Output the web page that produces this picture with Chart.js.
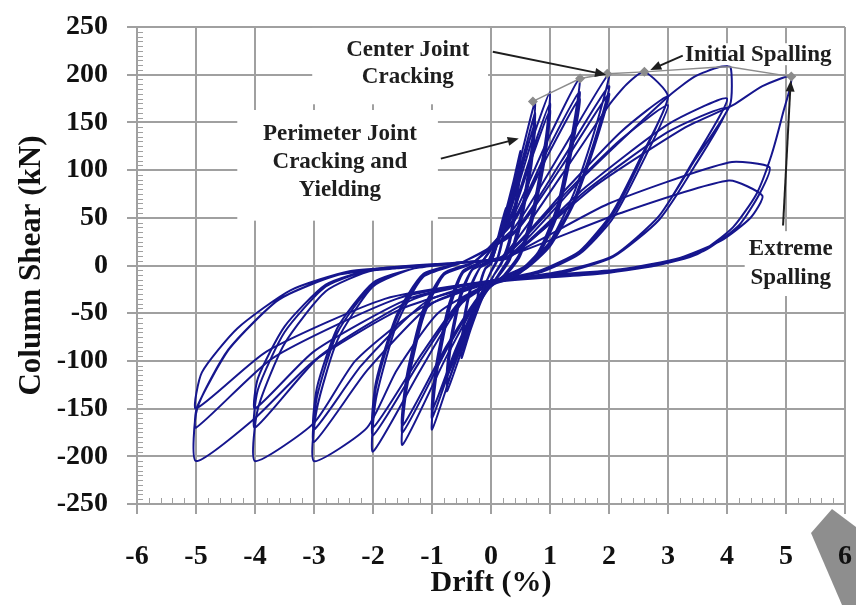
<!DOCTYPE html>
<html>
<head>
<meta charset="utf-8">
<script src="https://cdn.jsdelivr.net/npm/chart.js@4.4.1/dist/chart.umd.min.js"></script>
<style>
  html, body { margin: 0; padding: 0; background: #fff; }
  #wrap { width: 856px; height: 605px; }
</style>
</head>
<body>
<div id="wrap"><canvas id="hysteresis" width="856" height="605"></canvas></div>
<script>
// drift (%) / column shear (kN) pairs, three cycles per drift level
const drift025 = [
  [0, 0], [0.12, 30], [0.25, 60], [0.2, 32], [0.1, 6], [0, -6], [-0.12, -24], [-0.25, -50], [-0.2, -26], [-0.1, -4], [0, 2],
  [0.12, 28], [0.25, 56], [0.2, 30], [0.1, 5], [0, -7], [-0.12, -23], [-0.25, -47], [-0.2, -24], [-0.1, -3], [0, 2],
  [0.12, 27], [0.25, 53], [0.2, 28], [0.1, 4], [0, -7], [-0.12, -22], [-0.25, -45], [-0.2, -22], [-0.1, -3], [0, 2]
];
const drift050 = [
  [0, 2], [0.2, 45], [0.38, 88], [0.5, 120], [0.44, 78], [0.32, 30], [0.18, 4], [0.05, -10], [-0.15, -35], [-0.35, -68], [-0.5, -97], [-0.45, -60], [-0.33, -22], [-0.18, -2], [0, 4],
  [0.2, 42], [0.38, 82], [0.5, 110], [0.44, 70], [0.32, 26], [0.18, 3], [0.05, -10], [-0.15, -33], [-0.35, -63], [-0.5, -90], [-0.45, -55], [-0.33, -20], [-0.18, -2], [0, 4],
  [0.2, 40], [0.38, 78], [0.5, 105], [0.44, 66], [0.32, 24], [0.18, 2], [0.05, -10], [-0.15, -32], [-0.35, -60], [-0.5, -86], [-0.45, -52], [-0.33, -19], [-0.18, -2], [0, 4]
];
const drift075 = [
  [0, 4], [0.3, 60], [0.55, 125], [0.75, 172], [0.68, 120], [0.5, 52], [0.32, 10], [0.12, -10], [-0.2, -40], [-0.5, -90], [-0.75, -132], [-0.68, -85], [-0.52, -35], [-0.32, -5], [-0.05, 4],
  [0.3, 55], [0.55, 115], [0.75, 160], [0.68, 110], [0.5, 46], [0.32, 8], [0.12, -11], [-0.2, -38], [-0.5, -84], [-0.75, -124], [-0.68, -80], [-0.52, -32], [-0.32, -4], [-0.05, 4],
  [0.3, 52], [0.55, 108], [0.75, 150], [0.68, 102], [0.5, 42], [0.32, 6], [0.12, -12], [-0.2, -36], [-0.5, -80], [-0.75, -116], [-0.68, -75], [-0.52, -30], [-0.32, -4], [-0.05, 4]
];
const drift100 = [
  [-0.05, 4], [0.35, 62], [0.7, 132], [1.0, 182], [0.92, 130], [0.7, 56], [0.48, 12], [0.22, -10], [-0.15, -32], [-0.6, -100], [-1.0, -172], [-0.93, -118], [-0.72, -50], [-0.48, -8], [-0.15, 4],
  [0.35, 55], [0.7, 120], [1.0, 170], [0.92, 120], [0.7, 50], [0.48, 10], [0.22, -11], [-0.15, -30], [-0.6, -92], [-1.0, -160], [-0.93, -110], [-0.72, -46], [-0.48, -7], [-0.15, 4],
  [0.35, 52], [0.7, 114], [1.0, 163], [0.92, 114], [0.7, 46], [0.48, 8], [0.22, -12], [-0.15, -29], [-0.6, -88], [-1.0, -152], [-0.93, -104], [-0.72, -42], [-0.48, -6], [-0.15, 4]
];
const drift150 = [
  [-0.15, 4], [0.4, 55], [0.95, 130], [1.5, 196], [1.38, 140], [1.12, 62], [0.8, 14], [0.4, -10], [-0.1, -25], [-0.75, -95], [-1.5, -188], [-1.43, -130], [-1.15, -55], [-0.8, -10], [-0.3, 3],
  [0.4, 50], [0.95, 120], [1.5, 182], [1.38, 130], [1.12, 56], [0.8, 12], [0.4, -11], [-0.1, -24], [-0.75, -88], [-1.5, -175], [-1.43, -122], [-1.15, -50], [-0.8, -9], [-0.3, 3],
  [0.4, 47], [0.95, 114], [1.5, 175], [1.38, 124], [1.12, 52], [0.8, 10], [0.4, -12], [-0.1, -24], [-0.75, -84], [-1.5, -168], [-1.43, -116], [-1.15, -46], [-0.8, -8], [-0.3, 3]
];
const drift200 = [
  [-0.3, 3], [0.4, 40], [1.2, 120], [2.0, 201], [1.75, 140], [1.4, 75], [1.0, 25], [0.6, 0], [0.2, -12], [-0.5, -40], [-1.2, -110], [-2.0, -195], [-1.95, -140], [-1.6, -62], [-1.15, -12], [-0.5, 3],
  [0.4, 36], [1.2, 110], [2.0, 188], [1.75, 130], [1.4, 68], [1.0, 22], [0.6, -2], [0.2, -13], [-0.5, -38], [-1.2, -100], [-2.0, -178], [-1.95, -128], [-1.6, -56], [-1.15, -10], [-0.5, 3],
  [0.4, 34], [1.2, 104], [2.0, 180], [1.75, 124], [1.4, 64], [1.0, 20], [0.6, -3], [0.2, -14], [-0.5, -36], [-1.2, -95], [-2.0, -170], [-1.95, -122], [-1.6, -52], [-1.15, -9], [-0.5, 3]
];
const drift300 = [
  [-0.5, 3], [0.2, 10], [1.2, 95], [2.0, 168], [2.3, 190], [2.6, 203], [3.0, 177], [2.55, 115], [2.05, 55], [1.5, 15], [0.8, -6], [0, -18], [-0.9, -50], [-1.6, -110], [-2.1, -170], [-3.0, -205], [-2.95, -150], [-2.6, -78], [-2.0, -22], [-1.3, -3], [-0.5, 3],
  [0.2, 9], [1.3, 82], [2.2, 140], [3.0, 177], [2.55, 112], [2.05, 52], [1.5, 13], [0.8, -7], [0, -16], [-1.0, -40], [-2.1, -110], [-3.0, -185], [-2.95, -138], [-2.6, -70], [-2.0, -20], [-1.3, -3], [-0.5, 3],
  [0.2, 8], [1.3, 78], [2.2, 132], [3.0, 168], [2.55, 106], [2.05, 48], [1.5, 12], [0.8, -8], [0, -16], [-1.1, -38], [-2.2, -105], [-3.0, -172], [-2.95, -128], [-2.6, -65], [-2.0, -18], [-1.3, -3], [-0.5, 3]
];
const drift400 = [
  [-0.5, 3], [0.3, 10], [1.6, 95], [3.0, 177], [3.45, 198], [3.87, 208], [4.06, 208], [4.05, 168], [3.45, 110], [2.85, 52], [2.07, 10], [1.2, -6], [0, -18], [-1.2, -45], [-2.3, -100], [-3.0, -165], [-4.0, -205], [-3.95, -150], [-3.5, -82], [-2.8, -27], [-2.0, -5], [-0.6, 3],
  [0.3, 9], [1.6, 82], [3.0, 148], [4.0, 175], [3.45, 112], [2.85, 52], [2.07, 10], [1.2, -7], [0, -16], [-1.3, -35], [-2.9, -95], [-4.0, -170], [-3.95, -130], [-3.5, -70], [-2.8, -22], [-2.0, -4], [-0.6, 3],
  [0.3, 8], [1.6, 78], [3.0, 140], [4.0, 165], [3.45, 104], [2.85, 48], [2.07, 9], [1.2, -8], [0, -16], [-1.4, -35], [-3.0, -90], [-4.0, -150], [-3.95, -118], [-3.5, -64], [-2.8, -20], [-2.0, -4], [-0.6, 3]
];
const drift500 = [
  [-0.6, 3], [0.3, 10], [1.8, 85], [3.3, 145], [4.1, 168], [4.6, 188], [5.09, 198], [4.95, 160], [4.75, 115], [4.5, 75], [4.1, 40], [3.5, 12], [2.8, 0], [1.8, -9], [0, -18], [-1.5, -45], [-3.0, -100], [-4.0, -160], [-5.0, -205], [-4.98, -150], [-4.45, -88], [-3.6, -36], [-2.6, -10], [-1.6, -3], [-0.3, 4],
  [0.3, 10], [2.0, 65], [4.03, 108], [4.72, 103], [4.55, 75], [4.2, 42], [3.6, 15], [2.8, 2], [2.0, -7], [0, -16], [-1.6, -35], [-3.7, -97], [-5.0, -170], [-4.98, -148], [-4.43, -87], [-3.58, -35], [-2.61, -10], [-1.6, -3], [-0.3, 4],
  [0.3, 10], [2.2, 55], [4.03, 89], [4.6, 73], [4.4, 50], [3.9, 26], [3.2, 8], [2.2, -4], [1.0, -10], [0, -16], [-1.8, -35], [-3.8, -90], [-5.0, -150], [-4.9, -112], [-4.3, -66], [-3.4, -26], [-2.4, -6], [-1.2, 0]
];
// damage states marked along the positive envelope
const envelope = [[0.71, 172], [1.51, 196], [1.97, 201], [2.6, 203], [3.87, 208], [4.06, 208], [5.09, 198]];
const envelopeMarks = [4, 4, 4, 4, 0, 0, 4];

const driftTicks = [-6, -5, -4, -3, -2, -1, 0, 1, 2, 3, 4, 5, 6];
const shearTicks = [-250, -200, -150, -100, -50, 0, 50, 100, 150, 200, 250];

const cycles = [drift025, drift050, drift075, drift100, drift150, drift200, drift300, drift400, drift500];

const toPoints = (arr) => arr.map(([x, y]) => ({ x, y }));

const GRID = '#a0a0a0';
const BLUE = '#16168e';
const SERIF = '"Liberation Serif", "Times New Roman", serif';

// text callouts: [drift, shear] anchors
const notes = [
  { lines: ['Center Joint', 'Cracking'], at: [-1.41, 226], gap: 27 },
  { lines: ['Perimeter Joint', 'Cracking and', 'Yielding'], at: [-2.56, 138], gap: 28 },
  { lines: ['Initial Spalling'], at: [4.53, 221], gap: 0 },
  { lines: ['Extreme', 'Spalling'], at: [5.08, 17], gap: 29 }
];
const arrows = [
  { from: [0.03, 224], to: [1.95, 200] },
  { from: [3.25, 220], to: [2.7, 205] },
  { from: [-0.85, 112], to: [0.47, 133] },
  { from: [4.95, 42], to: [5.08, 194] }
];
// white panels behind the callouts, in drift/shear units: [x0, x1, y0, y1]
const panels = [
  [-3.03, -0.05, 169, 249],
  [-4.3, -0.9, 47, 163],
  [3.08, 6.0, 210, 233],
  [4.3, 6.0, -32, 36]
];

const notesPlugin = {
  id: 'notes',
  beforeDraw(chart) {
    // grey pointer shape in the lower right corner
    const ctx = chart.ctx;
    ctx.save();
    ctx.fillStyle = '#8e8e8e';
    ctx.beginPath();
    ctx.moveTo(811, 533);
    ctx.lineTo(832, 509);
    ctx.lineTo(856, 527);
    ctx.lineTo(856, 605);
    ctx.lineTo(842, 605);
    ctx.closePath();
    ctx.fill();
    ctx.restore();
  },
  beforeDatasetsDraw(chart) {
    const { ctx, scales: { x, y }, chartArea } = chart;
    ctx.save();
    // minor ticks inside the frame
    ctx.strokeStyle = GRID;
    ctx.lineWidth = 1;
    ctx.beginPath();
    for (let v = -250; v <= 250; v += 5) {
      const py = Math.round(y.getPixelForValue(v)) + 0.5;
      ctx.moveTo(chartArea.left, py);
      ctx.lineTo(chartArea.left + 6, py);
    }
    for (let i = -30; i <= 30; i++) {
      const px = Math.round(x.getPixelForValue(i / 5)) + 0.5;
      ctx.moveTo(px, chartArea.bottom);
      ctx.lineTo(px, chartArea.bottom - 6);
    }
    ctx.stroke();
    // panels
    ctx.fillStyle = '#fff';
    panels.forEach(([x0, x1, y0, y1]) => {
      const l = x.getPixelForValue(x0), r = x.getPixelForValue(x1);
      const t = y.getPixelForValue(y1), b = y.getPixelForValue(y0);
      ctx.fillRect(l, t, Math.min(r, chartArea.right - 1) - l, b - t);
    });
    ctx.restore();
  },
  afterDatasetsDraw(chart) {
    const { ctx, scales: { x, y } } = chart;
    ctx.save();
    ctx.fillStyle = '#1e1e1e';
    ctx.font = 'bold 23px ' + SERIF;
    ctx.textAlign = 'center';
    ctx.textBaseline = 'middle';
    notes.forEach((n) => {
      const cx = x.getPixelForValue(n.at[0]);
      const cy = y.getPixelForValue(n.at[1]);
      n.lines.forEach((t, i) => ctx.fillText(t, cx, cy + i * n.gap));
    });
    ctx.strokeStyle = '#1e1e1e';
    ctx.lineWidth = 2;
    arrows.forEach((a) => {
      const x0 = x.getPixelForValue(a.from[0]), y0 = y.getPixelForValue(a.from[1]);
      const x1 = x.getPixelForValue(a.to[0]), y1 = y.getPixelForValue(a.to[1]);
      const ang = Math.atan2(y1 - y0, x1 - x0);
      ctx.beginPath();
      ctx.moveTo(x0, y0);
      ctx.lineTo(x1 - 8 * Math.cos(ang), y1 - 8 * Math.sin(ang));
      ctx.stroke();
      ctx.beginPath();
      ctx.moveTo(x1, y1);
      ctx.lineTo(x1 - 11 * Math.cos(ang) + 4.5 * Math.sin(ang), y1 - 11 * Math.sin(ang) - 4.5 * Math.cos(ang));
      ctx.lineTo(x1 - 11 * Math.cos(ang) - 4.5 * Math.sin(ang), y1 - 11 * Math.sin(ang) + 4.5 * Math.cos(ang));
      ctx.closePath();
      ctx.fill();
    });
    ctx.restore();
  }
};

const datasets = cycles.map((c) => ({
  data: toPoints(c),
  showLine: true,
  borderColor: BLUE,
  borderWidth: 2,
  pointRadius: 0,
  tension: 0.2,
  fill: false
}));
datasets.unshift({
  data: toPoints(envelope),
  showLine: true,
  borderColor: '#8c8c8c',
  borderWidth: 1.4,
  pointStyle: 'rectRot',
  pointRadius: envelopeMarks,
  pointBackgroundColor: '#8c8c8c',
  pointBorderColor: '#8c8c8c',
  tension: 0
});

new Chart(document.getElementById('hysteresis'), {
  type: 'scatter',
  data: { datasets },
  plugins: [notesPlugin],
  options: {
    responsive: false,
    animation: false,
    devicePixelRatio: 1,
    layout: { padding: { top: 27, right: 11, left: 0, bottom: 0 } },
    plugins: { legend: { display: false }, tooltip: { enabled: false } },
    scales: {
      x: {
        type: 'linear',
        min: -6,
        max: 6,
        afterFit: (s) => { s.height = 101; s.paddingLeft = 0; s.paddingRight = 0; },
        afterBuildTicks: (s) => { s.ticks = driftTicks.map((v) => ({ value: v })); },
        ticks: {
          color: '#111',
          padding: 26,
          maxRotation: 0,
          font: { family: SERIF, size: 28, weight: 'bold' }
        },
        grid: { color: GRID, lineWidth: 2, tickLength: 10 },
        border: { color: GRID, width: 2 },
        title: {
          display: true,
          text: 'Drift (%)',
          color: '#111',
          padding: { top: 0, bottom: 4 },
          font: { family: SERIF, size: 30, weight: 'bold' }
        }
      },
      y: {
        type: 'linear',
        min: -250,
        max: 250,
        afterFit: (s) => { s.width = 137; s.paddingTop = 0; s.paddingBottom = 0; },
        afterBuildTicks: (s) => { s.ticks = shearTicks.map((v) => ({ value: v })); },
        ticks: {
          color: '#111',
          padding: 19,
          font: { family: SERIF, size: 28, weight: 'bold' }
        },
        grid: { color: GRID, lineWidth: 2, tickLength: 10 },
        border: { color: GRID, width: 2 },
        title: {
          display: true,
          text: 'Column Shear (kN)',
          color: '#111',
          padding: { top: 13, bottom: 0 },
          font: { family: SERIF, size: 31, weight: 'bold' }
        }
      }
    }
  }
});
</script>
</body>
</html>
